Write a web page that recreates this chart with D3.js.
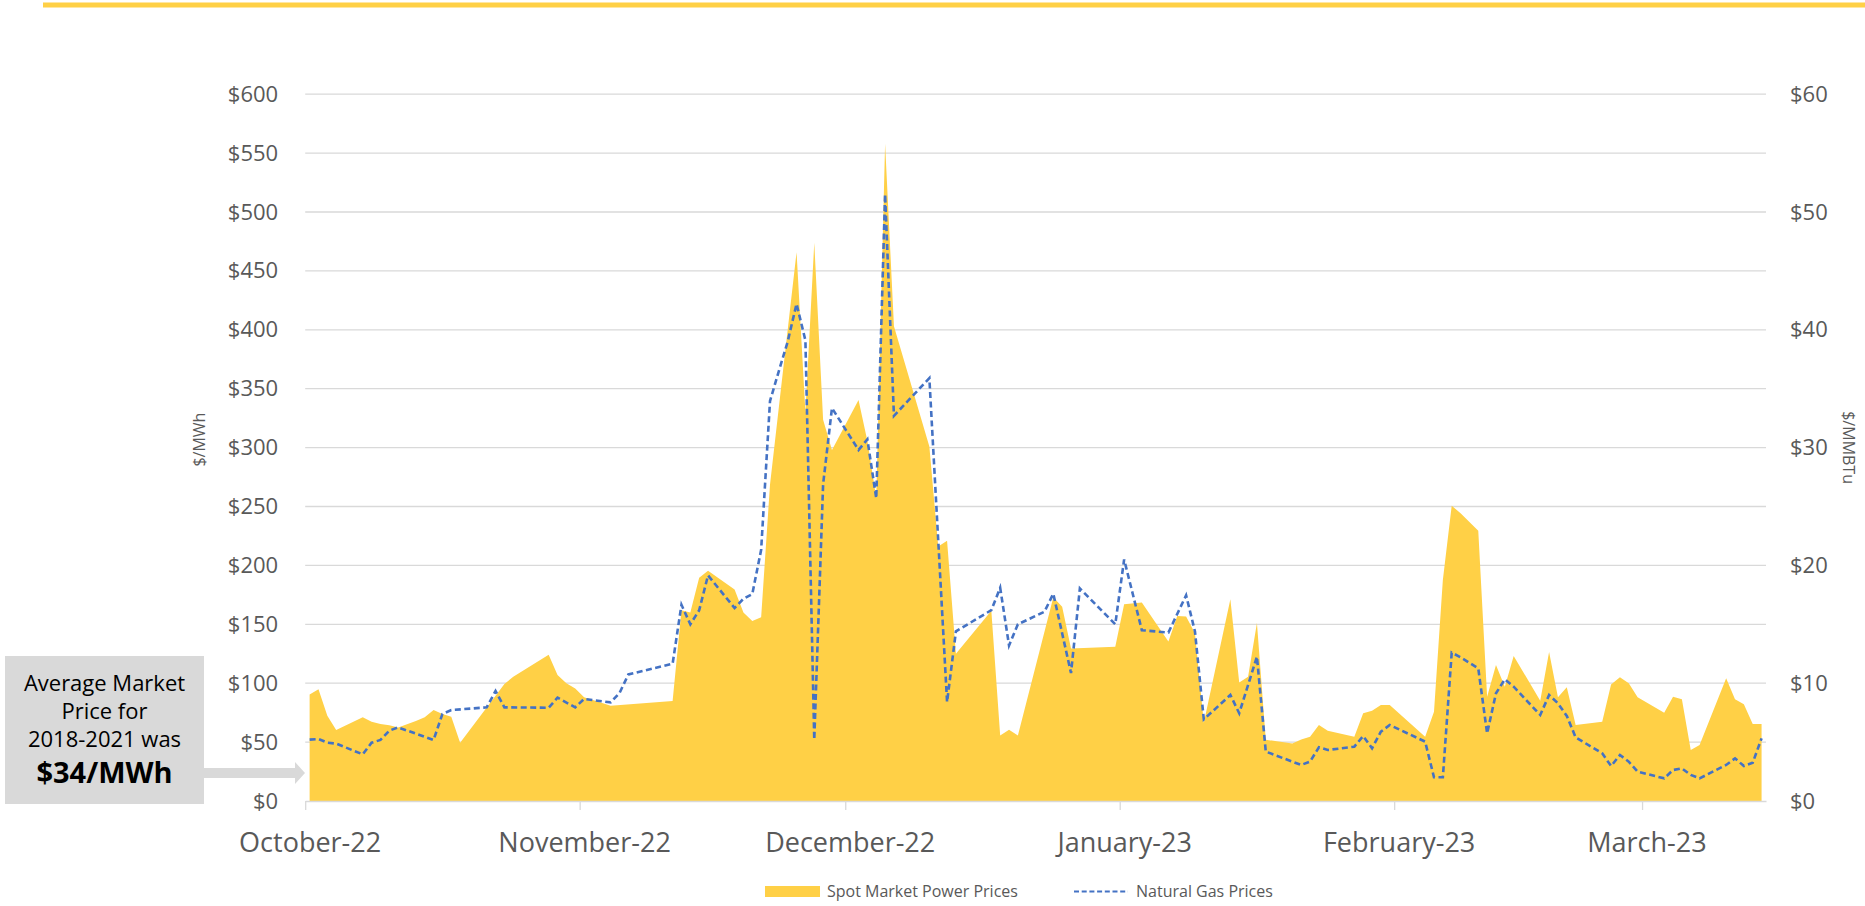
<!DOCTYPE html>
<html>
<head>
<meta charset="utf-8">
<script src="https://cdn.jsdelivr.net/npm/d3@7"></script>
<style>
  body { margin: 0; background: #fff; }
  svg { display: block; font-family: "Open Sans", sans-serif; }
</style>
</head>
<body>
<div id="chart"></div>
<script>
// Spot market power prices, $/MWh (left axis)
const spotPower = [
  ["2022-10-01", 90.5], ["2022-10-02", 94.8], ["2022-10-03", 72.4], ["2022-10-04", 60.3],
  ["2022-10-07", 71.0], ["2022-10-08", 67.3], ["2022-10-09", 65.4], ["2022-10-10", 64.2],
  ["2022-10-11", 62.5], ["2022-10-13", 68.0], ["2022-10-14", 71.0], ["2022-10-15", 77.2],
  ["2022-10-16", 73.9], ["2022-10-17", 71.6], ["2022-10-18", 49.5], ["2022-10-23", 99.3],
  ["2022-10-24", 105.5], ["2022-10-28", 124.2], ["2022-10-29", 107.0], ["2022-10-30", 99.9],
  ["2022-10-31", 95.6], ["2022-11-01", 88.0], ["2022-11-02", 85.7], ["2022-11-04", 80.9],
  ["2022-11-11", 84.9], ["2022-11-12", 161.9], ["2022-11-13", 160.0], ["2022-11-14", 189.5],
  ["2022-11-15", 195.4], ["2022-11-18", 179.6], ["2022-11-19", 160.0], ["2022-11-20", 152.8],
  ["2022-11-21", 155.9], ["2022-11-22", 268.5], ["2022-11-25", 465.9], ["2022-11-26", 330.0],
  ["2022-11-27", 473.8], ["2022-11-28", 323.7], ["2022-11-29", 298.0], ["2022-12-02", 340.4],
  ["2022-12-03", 305.6], ["2022-12-04", 257.5], ["2022-12-05", 558.0], ["2022-12-06", 403.0],
  ["2022-12-10", 301.0], ["2022-12-11", 216.0], ["2022-12-12", 221.0], ["2022-12-13", 125.0],
  ["2022-12-17", 161.5], ["2022-12-18", 55.5], ["2022-12-19", 60.5], ["2022-12-20", 55.5],
  ["2022-12-24", 173.0], ["2022-12-25", 165.0], ["2022-12-26", 129.5], ["2022-12-31", 131.0],
  ["2023-01-01", 167.0], ["2023-01-03", 168.5], ["2023-01-06", 135.4], ["2023-01-07", 157.0],
  ["2023-01-08", 156.6], ["2023-01-09", 142.5], ["2023-01-10", 66.5], ["2023-01-13", 171.3],
  ["2023-01-14", 100.5], ["2023-01-15", 105.5], ["2023-01-16", 151.0], ["2023-01-17", 52.0],
  ["2023-01-20", 48.8], ["2023-01-21", 52.3], ["2023-01-22", 54.6], ["2023-01-23", 64.5],
  ["2023-01-24", 59.7], ["2023-01-27", 54.6], ["2023-01-28", 74.4], ["2023-01-29", 76.7],
  ["2023-01-30", 81.5], ["2023-01-31", 81.5], ["2023-02-04", 54.6], ["2023-02-05", 75.8],
  ["2023-02-06", 187.6], ["2023-02-07", 250.7], ["2023-02-08", 244.2], ["2023-02-10", 229.5],
  ["2023-02-11", 88.6], ["2023-02-12", 115.5], ["2023-02-13", 97.0], ["2023-02-14", 123.1],
  ["2023-02-17", 85.2], ["2023-02-18", 126.5], ["2023-02-19", 88.0], ["2023-02-20", 96.5],
  ["2023-02-21", 64.5], ["2023-02-24", 67.3], ["2023-02-25", 99.0], ["2023-02-26", 105.0],
  ["2023-02-27", 99.9], ["2023-02-28", 88.0], ["2023-03-03", 75.0], ["2023-03-04", 88.6],
  ["2023-03-05", 86.3], ["2023-03-06", 43.3], ["2023-03-07", 47.5], ["2023-03-10", 104.1],
  ["2023-03-11", 86.3], ["2023-03-12", 82.1], ["2023-03-13", 65.4], ["2023-03-14", 65.4]
];

// Natural gas prices, $/MMBtu (right axis)
const naturalGas = [
  ["2022-10-01", 5.21], ["2022-10-02", 5.26], ["2022-10-03", 4.95], ["2022-10-04", 4.87],
  ["2022-10-07", 3.96], ["2022-10-08", 4.95], ["2022-10-09", 5.18], ["2022-10-10", 5.97],
  ["2022-10-11", 6.25], ["2022-10-15", 5.18], ["2022-10-16", 7.39], ["2022-10-17", 7.72],
  ["2022-10-21", 7.95], ["2022-10-22", 9.34], ["2022-10-23", 7.95], ["2022-10-28", 7.92],
  ["2022-10-29", 8.77], ["2022-10-31", 7.95], ["2022-11-01", 8.66], ["2022-11-04", 8.37],
  ["2022-11-05", 9.16], ["2022-11-06", 10.74], ["2022-11-11", 11.65], ["2022-11-12", 16.66],
  ["2022-11-13", 15.0], ["2022-11-14", 16.19], ["2022-11-15", 19.15], ["2022-11-18", 16.38],
  ["2022-11-19", 17.17], ["2022-11-20", 17.57], ["2022-11-21", 21.32], ["2022-11-22", 33.95],
  ["2022-11-23", 36.5], ["2022-11-24", 39.0], ["2022-11-25", 42.2], ["2022-11-26", 39.1],
  ["2022-11-27", 5.21], ["2022-11-28", 26.9], ["2022-11-29", 33.36], ["2022-12-02", 29.8],
  ["2022-12-03", 30.7], ["2022-12-04", 25.7], ["2022-12-05", 51.5], ["2022-12-06", 32.7],
  ["2022-12-10", 35.9], ["2022-12-12", 8.4], ["2022-12-13", 14.4], ["2022-12-17", 16.2],
  ["2022-12-18", 18.1], ["2022-12-19", 13.2], ["2022-12-20", 15.0], ["2022-12-23", 16.07],
  ["2022-12-24", 17.6], ["2022-12-26", 10.86], ["2022-12-27", 18.04], ["2022-12-31", 15.0],
  ["2023-01-01", 20.5], ["2023-01-03", 14.5], ["2023-01-06", 14.3], ["2023-01-08", 17.46],
  ["2023-01-09", 14.4], ["2023-01-10", 6.93], ["2023-01-13", 9.0], ["2023-01-14", 7.45],
  ["2023-01-16", 12.25], ["2023-01-17", 4.19], ["2023-01-21", 3.06], ["2023-01-22", 3.34],
  ["2023-01-23", 4.56], ["2023-01-24", 4.33], ["2023-01-27", 4.61], ["2023-01-28", 5.52],
  ["2023-01-29", 4.47], ["2023-01-30", 5.89], ["2023-01-31", 6.45], ["2023-02-04", 5.04],
  ["2023-02-05", 2.01], ["2023-02-06", 2.01], ["2023-02-07", 12.6], ["2023-02-08", 12.2],
  ["2023-02-10", 11.26], ["2023-02-11", 5.74], ["2023-02-12", 9.14], ["2023-02-13", 10.33],
  ["2023-02-14", 9.7], ["2023-02-17", 7.3], ["2023-02-18", 9.0], ["2023-02-19", 8.29],
  ["2023-02-20", 7.22], ["2023-02-21", 5.4], ["2023-02-24", 4.05], ["2023-02-25", 2.97],
  ["2023-02-26", 3.9], ["2023-02-27", 3.34], ["2023-02-28", 2.49], ["2023-03-03", 1.92],
  ["2023-03-04", 2.63], ["2023-03-05", 2.77], ["2023-03-06", 2.21], ["2023-03-07", 1.92],
  ["2023-03-10", 3.06], ["2023-03-11", 3.62], ["2023-03-12", 2.97], ["2023-03-13", 3.25],
  ["2023-03-14", 5.32]
];

const leftTicks = [0, 50, 100, 150, 200, 250, 300, 350, 400, 450, 500, 550, 600];
const rightTicks = [0, 10, 20, 30, 40, 50, 60];
const axisRange = ["2022-10-01", "2023-03-15"];
const seriesNames = ["Spot Market Power Prices", "Natural Gas Prices"];
const axisTitles = ["$/MWh", "$/MMBTu"];
const noteLines = ["Average Market", "Price for", "2018-2021 was"];
const noteValue = "$34/MWh";

const W = 1865, H = 906;
const plot = { left: 305.2, right: 1766, top: 94.2, bottom: 801 };
const gold = "#FFD046", blue = "#4472C4", grid = "#D9D9D9", ink = "#595959";

const svg = d3.select("#chart").append("svg")
  .attr("width", W)
  .attr("height", H);

const parse = d3.utcParse("%Y-%m-%d");
// Excel date axis puts each point in the middle of its day
const mid = s => d3.utcHour.offset(parse(s), 12);

const x = d3.scaleUtc().domain(axisRange.map(parse)).range([plot.left, plot.right]);
const y = d3.scaleLinear().domain([0, 600]).range([plot.bottom, plot.top]);
const y2 = d3.scaleLinear().domain([0, 60]).range([plot.bottom, plot.top]);
const halfDay = x(mid(axisRange[0])) - x(parse(axisRange[0]));

// top accent bar
svg.append("rect")
  .attr("x", 43).attr("y", 2.5)
  .attr("width", W - 43).attr("height", 5)
  .attr("fill", gold);

// horizontal grid
svg.append("g")
  .selectAll("line")
  .data(leftTicks.filter(d => d > 0))
  .join("line")
    .attr("x1", plot.left).attr("x2", plot.right)
    .attr("y1", d => y(d)).attr("y2", d => y(d))
    .attr("stroke", grid)
    .attr("stroke-width", 1.3);

// power price area
svg.append("path")
  .datum(spotPower)
  .attr("fill", gold)
  .attr("d", d3.area()
    .x(d => x(mid(d[0])))
    .y0(y(0))
    .y1(d => y(d[1])));

// gas price line
svg.append("path")
  .datum(naturalGas)
  .attr("fill", "none")
  .attr("stroke", blue)
  .attr("stroke-width", 2.6)
  .attr("stroke-dasharray", "6,3.5")
  .attr("d", d3.line()
    .x(d => x(mid(d[0])))
    .y(d => y2(d[1])));

// x axis
const xAxis = svg.append("g")
  .attr("transform", "translate(0," + plot.bottom + ")")
  .call(d3.axisBottom(x)
    .ticks(d3.utcMonth.every(1))
    .tickFormat(d3.utcFormat("%B-%y"))
    .tickSize(9)
    .tickSizeOuter(0));
xAxis.select(".domain").attr("stroke", grid).attr("stroke-width", 1.3);
xAxis.selectAll(".tick line").attr("stroke", grid).attr("stroke-width", 1.3);
xAxis.selectAll(".tick text")
  .attr("x", halfDay)
  .attr("y", 51)
  .attr("dy", 0)
  .attr("fill", ink)
  .style("font-size", "27px")
  .style("font-family", "'Open Sans', sans-serif");

// left axis
const yAxis = svg.append("g")
  .attr("transform", "translate(" + plot.left + ",0)")
  .call(d3.axisLeft(y).tickValues(leftTicks).tickFormat(d => "$" + d).tickSize(0).tickPadding(27));
yAxis.select(".domain").remove();
yAxis.selectAll("text")
  .attr("fill", ink)
  .style("font-size", "22px")
  .style("font-family", "'Open Sans', sans-serif");

// right axis
const y2Axis = svg.append("g")
  .attr("transform", "translate(" + plot.right + ",0)")
  .call(d3.axisRight(y2).tickValues(rightTicks).tickFormat(d => "$" + d).tickSize(0).tickPadding(24));
y2Axis.select(".domain").remove();
y2Axis.selectAll("text")
  .attr("fill", ink)
  .style("font-size", "22px")
  .style("font-family", "'Open Sans', sans-serif");

// axis titles
const midY = (plot.top + plot.bottom) / 2;
svg.append("text")
  .attr("transform", "translate(201," + (midY - 8) + ") rotate(-90)")
  .attr("text-anchor", "middle")
  .attr("dominant-baseline", "middle")
  .attr("fill", ink)
  .style("font-size", "16px")
  .text(axisTitles[0]);
svg.append("text")
  .attr("transform", "translate(1847," + midY + ") rotate(90)")
  .attr("text-anchor", "middle")
  .attr("dominant-baseline", "middle")
  .attr("fill", ink)
  .style("font-size", "16px")
  .text(axisTitles[1]);

// annotation box with arrow
const note = svg.append("g");
note.append("rect")
  .attr("x", 5).attr("y", 656)
  .attr("width", 199).attr("height", 148)
  .attr("fill", grid);
note.append("path")
  .attr("d", "M204,768 L295,768 L295,762 L305,773 L295,784 L295,778 L204,778 Z")
  .attr("fill", grid);
note.selectAll("text.line")
  .data(noteLines)
  .join("text")
    .attr("class", "line")
    .attr("x", 104.5)
    .attr("y", (d, i) => 691 + i * 28)
    .attr("text-anchor", "middle")
    .attr("fill", "#000")
    .style("font-size", "22px")
    .text(d => d);
note.append("text")
  .attr("x", 104.5)
  .attr("y", 783)
  .attr("text-anchor", "middle")
  .attr("fill", "#000")
  .style("font-size", "29px")
  .style("font-weight", "bold")
  .text(noteValue);

// legend
const legend = svg.append("g");
legend.append("rect")
  .attr("x", 765).attr("y", 886)
  .attr("width", 55).attr("height", 11)
  .attr("fill", gold);
legend.append("text")
  .attr("x", 827).attr("y", 897)
  .attr("fill", ink)
  .style("font-size", "16px")
  .text(seriesNames[0]);
legend.append("line")
  .attr("x1", 1074).attr("x2", 1128)
  .attr("y1", 891.5).attr("y2", 891.5)
  .attr("stroke", blue)
  .attr("stroke-width", 2)
  .attr("stroke-dasharray", "5,2.7");
legend.append("text")
  .attr("x", 1136).attr("y", 897)
  .attr("fill", ink)
  .style("font-size", "16px")
  .text(seriesNames[1]);
</script>
</body>
</html>
